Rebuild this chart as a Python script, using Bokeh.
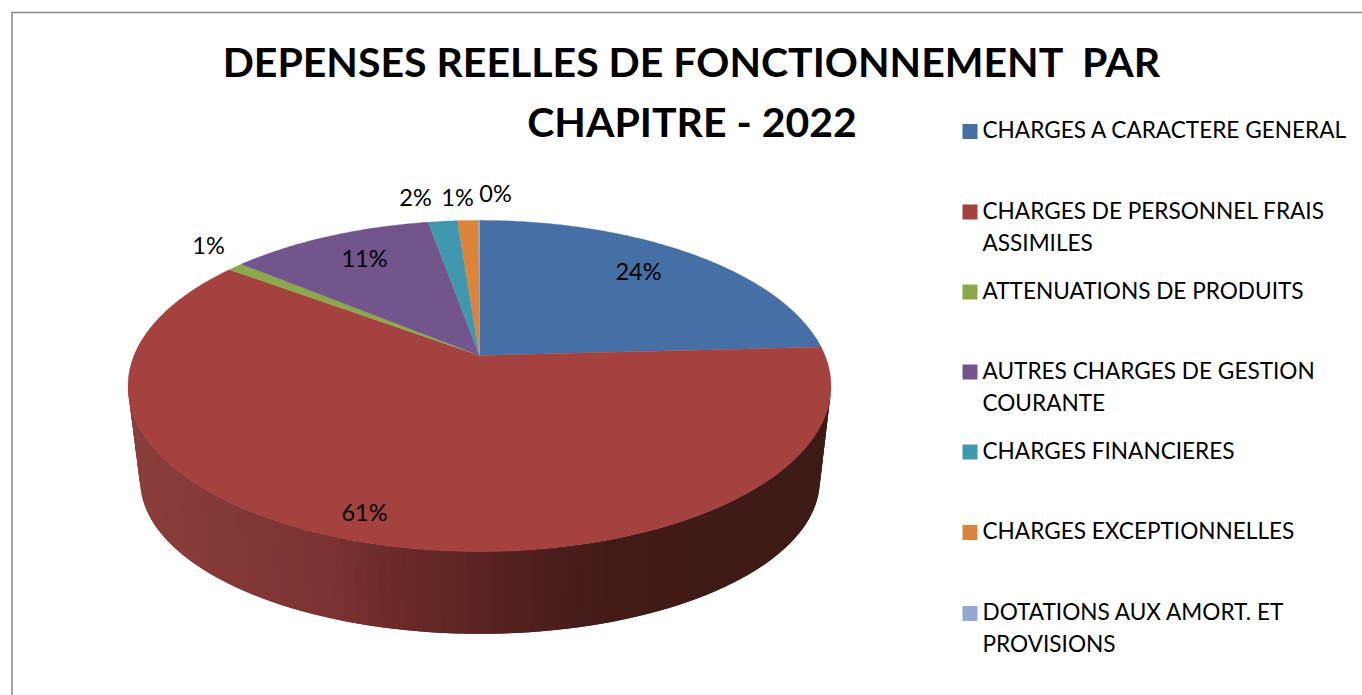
import numpy as np
from bokeh.plotting import figure
from bokeh.models import Range1d
from bokeh.core.properties import value
from bokeh.embed import file_html
from bokeh.resources import INLINE

# ---- data ----
title_lines = ["DEPENSES REELLES DE FONCTIONNEMENT \u00a0PAR", "CHAPITRE - 2022"]
categories = ["CHARGES A CARACTERE GENERAL", "CHARGES DE PERSONNEL FRAIS\nASSIMILES",
              "ATTENUATIONS DE PRODUITS", "AUTRES CHARGES DE GESTION\nCOURANTE",
              "CHARGES FINANCIERES", "CHARGES EXCEPTIONNELLES",
              "DOTATIONS AUX AMORT. ET\nPROVISIONS"]
shares = [24.15, 61.0, 0.85, 11.2, 1.6, 1.15, 0.05]

# ---- styles and layout ----
colors = ["#4670A5", "#A54240", "#8BA84A", "#71558C", "#4098AE", "#DA843C", "#93A9CF"]
label_pos = [(638, 270), (364, 511), (208, 244), (364, 257), (415, 196), (457, 196), (495, 192)]
legend_y = [131, 211.5, 291.5, 371.5, 451.5, 532, 613]
wall_x = [127, 200, 343, 410, 477, 547, 613, 831]
wall_rgb = [(139, 64, 61), (135, 60, 57), (122, 50, 48), (106, 41, 40), (92, 37, 35), (78, 31, 30), (67, 27, 23), (62, 26, 22)]
FONT = "Lato"
K = 0.184
TOP = dict(cx=479.0, cy=355.0, R=345.5, S=160.0)
BOT = dict(cx=479.5, cy=452.0, R=334.0, S=148.0)


def project(disc, theta):
    """theta clockwise from 12 o'clock, radians; perspective view of a unit disc."""
    x, y = np.sin(theta), np.cos(theta)
    d = 1 + K * y
    return disc["cx"] + disc["R"] * x / d, disc["cy"] - disc["S"] * y / d


p = figure(width=1362, height=695, output_backend="svg", toolbar_location=None,
           x_range=Range1d(0, 1362), y_range=Range1d(695, 0), min_border=0,
           outline_line_color=None, background_fill_color="white", border_fill_color="white")
p.axis.visible = False
p.grid.visible = False

# chart frame
p.line([11.5, 11.5], [695, 12], line_color="#8c8c8c", line_width=1.6)
p.line([11, 1362], [12, 12], line_color="#8c8c8c", line_width=1.6)

# wall: visible front arc between the two silhouette points, overlapping strips
t_left = 2 * np.pi - np.arccos(-K)
t_right = np.arccos(-K)
edges = np.linspace(t_right, t_left, 91)
xs, ys, fills = [], [], []
for i in range(len(edges) - 1):
    ta = np.array([edges[i], edges[min(i + 2, len(edges) - 1)]])
    tx, ty = project(TOP, ta)
    bx, by = project(BOT, ta)
    xm = (tx[0] + bx[0]) / 2
    rgb = [int(np.interp(xm, wall_x, [c[j] for c in wall_rgb])) for j in range(3)]
    xs.append(list(tx) + list(bx[::-1]))
    ys.append(list(ty) + list(by[::-1]))
    fills.append("#%02x%02x%02x" % tuple(rgb))
p.patches(xs, ys, fill_color=fills, line_color=None)

# top face
cum = np.concatenate([[0], np.cumsum(shares)]) / sum(shares) * 2 * np.pi
for i, col in enumerate(colors):
    n = max(3, int((cum[i + 1] - cum[i]) * 90))
    th = np.linspace(cum[i], cum[i + 1], n)
    ax, ay = project(TOP, th)
    p.patch([TOP["cx"], *ax], [TOP["cy"], *ay], fill_color=col, line_color=col, line_width=0.3)

# data labels
labels = [f"{round(v)}%" for v in shares]
p.text([q[0] for q in label_pos], [q[1] for q in label_pos], text=labels,
       text_font=value(FONT), text_font_size="23.5px", text_color="#000000",
       text_align="center", text_baseline="middle")

# title
p.text([691.5, 691.5], [61, 120.5], text=title_lines, text_font=value(FONT), text_font_style="bold",
       text_font_size="41px", text_color="#000000", text_align="center", text_baseline="middle")

# legend
p.rect([969.5] * len(colors), legend_y, width=15, height=15, fill_color=colors, line_color=None)
for name, y in zip(categories, legend_y):
    for j, line in enumerate(name.split("\n")):
        p.text([982], [y - 2 + j * 32], text=[line], text_font=value(FONT), text_font_size="22.6px",
               text_color="#000000", text_align="left", text_baseline="middle")

open("out.html", "w").write(file_html(p, INLINE))
